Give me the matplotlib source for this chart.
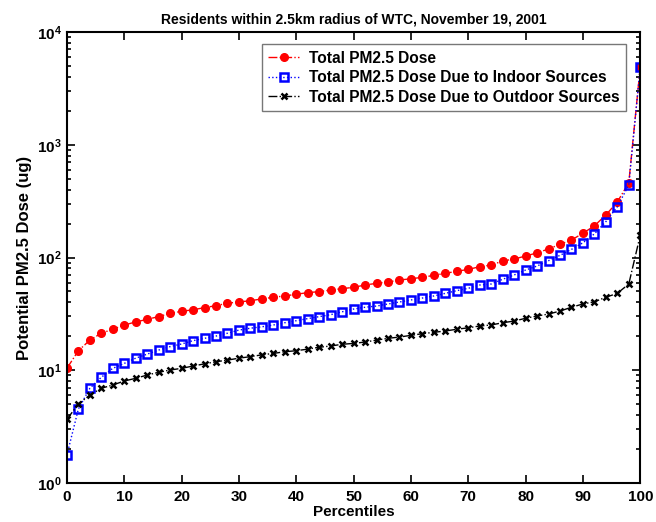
import numpy as np
import matplotlib
matplotlib.use("Agg")
import matplotlib.pyplot as plt
from matplotlib.ticker import LogLocator, NullFormatter

percentiles = list(range(0, 101, 2))

total_dose = [10.4, 14.9, 18.5, 21.3, 23.1, 25.2, 26.8, 28.3, 29.9, 32.0,
              33.3, 34.4, 35.9, 37.4, 39.3, 40.3, 41.4, 42.9, 44.4, 45.6,
              47.2, 48.8, 49.8, 51.5, 52.9, 54.4, 57.0, 59.0, 60.6, 63.1,
              64.8, 66.7, 69.5, 72.4, 75.4, 78.5, 82.8, 85.8, 93.0, 97.0,
              103, 110, 119, 131, 143, 164, 191, 238, 311, 460, 4900]

indoor_dose = [1.77, 4.53, 6.92, 8.66, 10.4, 11.5, 12.8, 13.9, 15.1, 16.2,
               17.1, 18.3, 19.2, 20.1, 21.3, 22.7, 23.6, 24.3, 25.2, 26.4,
               27.5, 28.7, 29.9, 31.1, 33.0, 34.9, 36.2, 37.1, 38.7, 40.3,
               42.0, 43.7, 45.6, 48.1, 50.8, 53.3, 57.0, 58.2, 64.1, 70.0,
               77.4, 84.0, 93.7, 104.5, 118, 135, 162, 208, 282, 440, 4900]

outdoor_dose = [3.67, 5.02, 6.03, 6.92, 7.4, 8.03, 8.48, 9.07, 9.59, 10.05,
                10.4, 10.9, 11.4, 11.9, 12.3, 12.8, 13.2, 13.7, 14.1, 14.6,
                14.9, 15.4, 16.0, 16.4, 17.0, 17.3, 17.8, 18.5, 19.2, 19.7,
                20.4, 21.1, 21.7, 22.3, 23.1, 23.8, 24.7, 25.2, 26.4, 27.3,
                28.9, 30.3, 31.5, 33.5, 36.2, 38.7, 40.5, 44.4, 48.1, 58.2, 158]

labels = ["Total PM2.5 Dose",
          "Total PM2.5 Dose Due to Indoor Sources",
          "Total PM2.5 Dose Due to Outdoor Sources"]

plt.rcParams['font.family'] = ['Liberation Sans', 'DejaVu Sans']
plt.rcParams['font.weight'] = 'bold'

fig = plt.figure(figsize=(6.56, 5.22), dpi=100)
ax = fig.add_axes([0.102, 0.0747, 0.874, 0.864])

ax.plot(percentiles, total_dose, color='red', linestyle='-.', linewidth=1.0,
        marker='o', markersize=5.5, markerfacecolor='red', markeredgecolor='red',
        label=labels[0])
ax.plot(percentiles, indoor_dose, color='blue', linestyle=':', linewidth=1.0,
        marker='s', markersize=5.5, markerfacecolor='none', markeredgecolor='blue',
        markeredgewidth=1.8, label=labels[1])
ax.plot(percentiles, outdoor_dose, color='black', linestyle='-.', linewidth=1.0,
        marker='x', markersize=4.5, markeredgewidth=1.8, label=labels[2])

ax.set_yscale('log')
ax.set_xlim(0, 100)
ax.set_ylim(1, 1e4)
ax.set_xticks(range(0, 101, 10))
ax.yaxis.set_major_locator(LogLocator(base=10, numticks=10))
ax.yaxis.set_minor_locator(LogLocator(base=10, subs=np.arange(2, 10), numticks=10))
ax.yaxis.set_minor_formatter(NullFormatter())

ax.tick_params(which='both', direction='in', top=True, right=True,
               labelsize=11, width=1.2)
ax.tick_params(which='major', length=6)
ax.tick_params(which='minor', length=3)
ax.tick_params(axis='x', pad=5)
for lab in ax.get_xticklabels() + ax.get_yticklabels():
    lab.set_fontweight('bold')
for s in ax.spines.values():
    s.set_linewidth(1.5)

ax.set_title("Residents within 2.5km radius of WTC, November 19, 2001",
             fontsize=10, fontweight='bold', pad=6)
ax.set_ylabel("Potential PM2.5 Dose (ug)", fontsize=12, fontweight='bold')
ax.set_xlabel("Percentiles", fontsize=11, fontweight='bold', labelpad=1)

leg = ax.legend(loc='upper right', fontsize=11.2, frameon=True, fancybox=False,
                edgecolor='#777777', framealpha=1, borderpad=0.4,
                labelspacing=0.3, handlelength=2.0, handletextpad=0.6,
                bbox_to_anchor=(0.988, 0.99))
for t in leg.get_texts():
    t.set_fontweight('bold')

fig.savefig("out.png", dpi=100)
